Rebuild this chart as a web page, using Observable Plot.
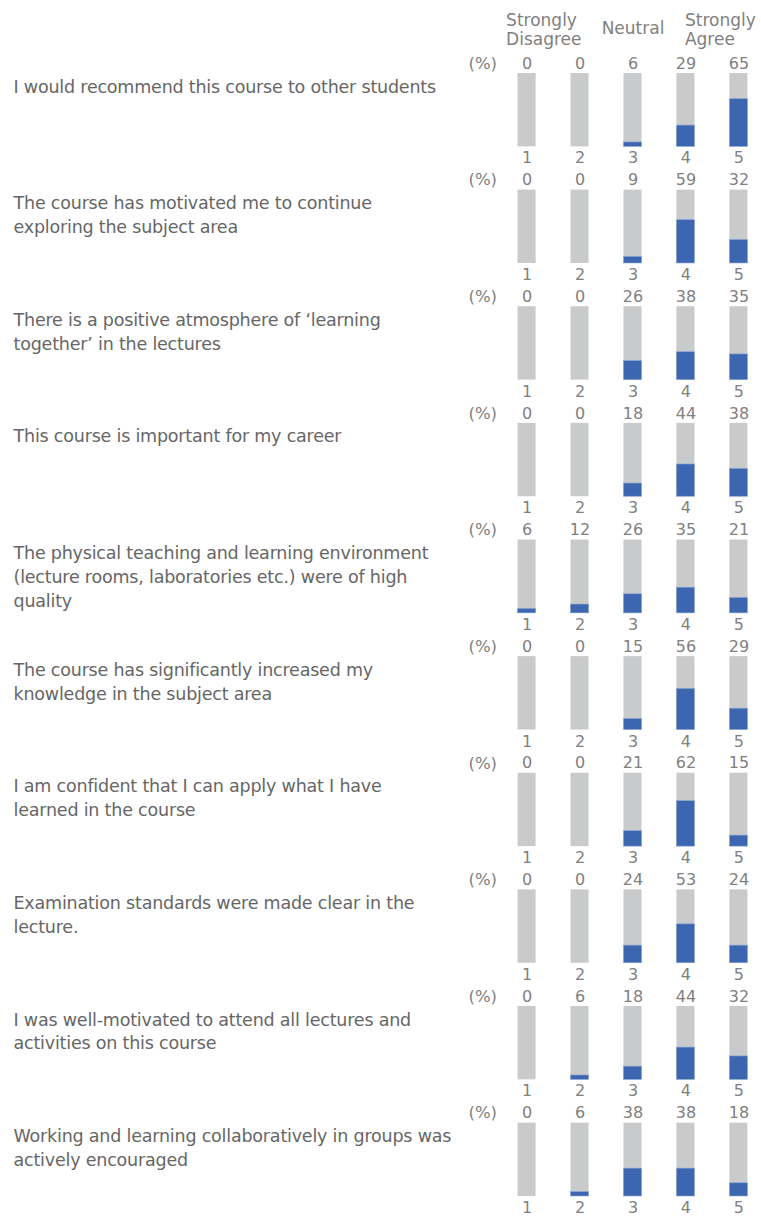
<!DOCTYPE html>
<html>
<head>
<meta charset="utf-8">
<script src="https://cdn.jsdelivr.net/npm/d3@7"></script>
<script src="https://cdn.jsdelivr.net/npm/@observablehq/plot@0.6"></script>
<style>
  html, body { margin: 0; padding: 0; background: #fff; }
  #chart svg { display: block; }
  #chart g[font-size="17.5"] { letter-spacing: -0.2px; }
</style>
</head>
<body>
<div id="chart"></div>
<script>
// ---- data ----
const questions = [
  "I would recommend this course to other students",
  "The course has motivated me to continue\nexploring the subject area",
  "There is a positive atmosphere of \u2018learning\ntogether\u2019 in the lectures",
  "This course is important for my career",
  "The physical teaching and learning environment\n(lecture rooms, laboratories etc.) were of high\nquality",
  "The course has significantly increased my\nknowledge in the subject area",
  "I am confident that I can apply what I have\nlearned in the course",
  "Examination standards were made clear in the\nlecture.",
  "I was well-motivated to attend all lectures and\nactivities on this course",
  "Working and learning collaboratively in groups was\nactively encouraged"
];
const scores = [1, 2, 3, 4, 5];
const percentages = [
  [0, 0, 6, 29, 65],
  [0, 0, 9, 59, 32],
  [0, 0, 26, 38, 35],
  [0, 0, 18, 44, 38],
  [6, 12, 26, 35, 21],
  [0, 0, 15, 56, 29],
  [0, 0, 21, 62, 15],
  [0, 0, 24, 53, 24],
  [0, 6, 18, 44, 32],
  [0, 6, 38, 38, 18]
];
const headerLabels = ["Strongly\nDisagree", "Neutral", "Strongly\nAgree"];
const headerScores = [1, 3, 4];
const unitLabel = "(%)";

// ---- derived tables ----
const rows = [];
percentages.forEach((vals, qi) => {
  vals.forEach((v, si) => rows.push({q: qi, score: scores[si], pct: v, full: 100}));
});
const qRows = questions.map((text, qi) => ({q: qi, text}));
const header = headerLabels.map((label, i) => ({q: 0, score: headerScores[i], label}));

const FONT = "DejaVu Sans, sans-serif";
const numColor = "#808080";

const chart = Plot.plot({
  width: 761,
  height: 1221,
  marginLeft: 507,
  marginRight: 3,
  marginTop: 73,
  marginBottom: 25,
  style: {fontFamily: FONT, background: "#fff"},
  x: {type: "band", domain: scores, paddingInner: 0.66, paddingOuter: 0.2, round: false, axis: null},
  y: {domain: [0, 100], axis: null},
  fy: {type: "band", domain: d3.range(questions.length), paddingInner: 0.371, paddingOuter: 0, round: false, axis: null},
  marks: [
    Plot.barY(rows, {x: "score", fy: "q", y: "full", fill: "#c9cacb"}),
    Plot.barY(rows, {x: "score", fy: "q", y: "pct", fill: "#3d66b0", stroke: "#8aa6d6", strokeWidth: 0.6}),
    Plot.text(rows, {x: "score", fy: "q", text: d => String(d.pct), frameAnchor: "top", lineAnchor: "middle", dy: -10, fontSize: 16, fill: numColor}),
    Plot.text(rows, {x: "score", fy: "q", text: d => String(d.score), frameAnchor: "bottom", lineAnchor: "middle", dy: 11.5, fontSize: 16, fill: numColor}),
    Plot.text(qRows, {fy: "q", text: () => unitLabel, frameAnchor: "top-left", textAnchor: "start", lineAnchor: "middle", dx: -39, dy: -10, fontSize: 16.5, fill: numColor}),
    Plot.text(qRows, {fy: "q", text: "text", frameAnchor: "top-left", textAnchor: "start", lineAnchor: "top", dx: -494, dy: 2, fontSize: 17.5, lineHeight: 1.37, fill: "#666666"}),
    Plot.text(header.filter(d => d.score === 1), {x: "score", fy: "q", text: "label", frameAnchor: "top", textAnchor: "start", lineAnchor: "middle", dy: -44, dx: -21, fontSize: 17, lineHeight: 1.12, fill: numColor}),
    Plot.text(header.filter(d => d.score === 3), {x: "score", fy: "q", text: "label", frameAnchor: "top", textAnchor: "middle", lineAnchor: "middle", dy: -46, fontSize: 17, lineHeight: 1.12, fill: numColor}),
    Plot.text(header.filter(d => d.score === 4), {x: "score", fy: "q", text: "label", frameAnchor: "top", textAnchor: "start", lineAnchor: "middle", dy: -44, dx: -1, fontSize: 17, lineHeight: 1.12, fill: numColor})
  ]
});
document.getElementById("chart").appendChild(chart);
</script>
</body>
</html>
